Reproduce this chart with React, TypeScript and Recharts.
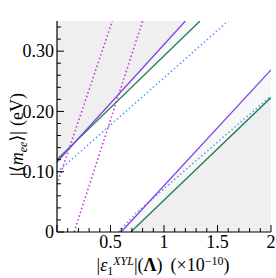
import React from 'react';
import { ComposedChart, Line, Area, XAxis, YAxis } from 'recharts';

const X_DOMAIN: [number, number] = [0, 2];
const Y_DOMAIN: [number, number] = [0, 0.35];

const xMajorTicks = [0, 0.5, 1, 1.5, 2];
const xMinorTicks = [0.1, 0.2, 0.3, 0.4, 0.6, 0.7, 0.8, 0.9, 1.1, 1.2, 1.3, 1.4, 1.6, 1.7, 1.8, 1.9];
const xTickLabels: Record<string, string> = { '0.5': '0.5', '1': '1', '1.5': '1.5', '2': '2' };

const yMajorTicks = [0, 0.1, 0.2, 0.3];
const yMinorTicks = [0.02, 0.04, 0.06, 0.08, 0.12, 0.14, 0.16, 0.18, 0.22, 0.24, 0.26, 0.28, 0.32, 0.34];
const yTickLabels: Record<string, string> = { '0': '0', '0.1': '0.10', '0.2': '0.20', '0.3': '0.30' };

// upper band (solid / dotted lines)
const purpleUpperX = [0, 1.2];
const purpleUpperY = [0.116, 0.35];
const greenUpperX = [0, 1.336];
const greenUpperY = [0.12, 0.35];
const blueUpperX = [0, 1.6];
const blueUpperY = [0.099, 0.35];

// lower band
const purpleLowerX = [0.6, 2];
const purpleLowerY = [0, 0.269];
const greenLowerX = [0.69, 2];
const greenLowerY = [0, 0.223];
const blueLowerX = [0.58, 0.73, 1.13, 2];
const blueLowerY = [0, 0.03, 0.092, 0.226];

// steep magenta dotted lines
const magenta1X = [0, 0.517];
const magenta1Y = [0.079, 0.35];
const magenta2X = [0.16, 0.8];
const magenta2Y = [0, 0.35];

const PURPLE = '#8040e8';
const GREEN = '#1f7a4c';
const BLUE = '#5a9cff';
const MAGENTA = '#cc33dd';
const FONT = '"Liberation Serif", "DejaVu Serif", serif';

const pts = (xs: number[], ys: number[]) => xs.map((x, i) => ({ x, y: ys[i] }));
const above = (xs: number[], ys: number[]) => xs.map((x, i) => ({ x, r: [ys[i], Y_DOMAIN[1]] }));
const below = (xs: number[], ys: number[]) => xs.map((x, i) => ({ x, r: [Y_DOMAIN[0], ys[i]] }));

const isMajor = (arr: number[], v: number) => arr.some((m) => Math.abs(m - v) < 1e-9);

const LeftTick = (props: any) => {
  const { x, y, payload } = props;
  const major = isMajor(yMajorTicks, payload.value);
  return (
    <g>
      <line x1={x} x2={x + (major ? 7 : 4)} y1={y} y2={y} stroke="#000" strokeWidth={1} />
      {major && (
        <text x={x - 3} y={y} dy="0.35em" textAnchor="end" fontFamily={FONT} fontSize={18} fill="#000">
          {yTickLabels[String(payload.value)]}
        </text>
      )}
    </g>
  );
};

const RightTick = (props: any) => {
  const { x, y, payload } = props;
  const major = isMajor(yMajorTicks, payload.value);
  return <line x1={x} x2={x - (major ? 7 : 4)} y1={y} y2={y} stroke="#000" strokeWidth={1} />;
};

const BottomTick = (props: any) => {
  const { x, y, payload } = props;
  const major = isMajor(xMajorTicks, payload.value);
  const label = xTickLabels[String(payload.value)];
  return (
    <g>
      <line x1={x} x2={x} y1={y} y2={y - (major ? 7 : 4)} stroke="#000" strokeWidth={1} />
      {label && (
        <text x={x} y={y + 16} textAnchor="middle" fontFamily={FONT} fontSize={18} fill="#000">
          {label}
        </text>
      )}
    </g>
  );
};

const TopTick = (props: any) => {
  const { x, y, payload } = props;
  const major = isMajor(xMajorTicks, payload.value);
  return <line x1={x} x2={x} y1={y} y2={y + (major ? 7 : 4)} stroke="#000" strokeWidth={1} />;
};

const XLabel = (props: any) => {
  const vb = props.viewBox;
  const cx = vb.x + vb.width / 2 - 1;
  const y = vb.y + 39;
  return (
    <text x={cx} y={y} textAnchor="middle" fontFamily={FONT} fontSize={18} fill="#000">
      <tspan>|</tspan>
      <tspan fontStyle="italic">ε</tspan>
      <tspan fontSize={12} dy={4}>1</tspan>
      <tspan fontSize={12} fontStyle="italic" dy={-10}>XYL</tspan>
      <tspan dy={6}>|(</tspan>
      <tspan fontWeight="bold">Λ</tspan>
      <tspan>)</tspan>
      <tspan dx={8}>(×10</tspan>
      <tspan fontSize={12} dy={-6}>−10</tspan>
      <tspan dy={6}>)</tspan>
    </text>
  );
};

const YLabel = (props: any) => {
  const vb = props.viewBox;
  const bx = 23;
  const cy = vb.y + vb.height / 2 + 8;
  return (
    <text
      x={bx}
      y={cy}
      transform={`rotate(-90, ${bx}, ${cy})`}
      textAnchor="middle"
      fontFamily={FONT}
      fontSize={18}
      fill="#000"
    >
      <tspan>|⟨</tspan>
      <tspan fontStyle="italic">m</tspan>
      <tspan fontSize={12} fontStyle="italic" dy={4}>ee</tspan>
      <tspan dy={-4}>⟩|</tspan>
      <tspan dx={5}>(eV)</tspan>
    </text>
  );
};

const shade = { fill: '#000', fillOpacity: 0.03, stroke: 'none' };

export default function App() {
  const xTicks = [...xMajorTicks, ...xMinorTicks].sort((a, b) => a - b);
  const yTicks = [...yMajorTicks, ...yMinorTicks].sort((a, b) => a - b);
  return (
    <div style={{ position: 'absolute', left: 0, top: 0, background: '#fff' }}>
      <ComposedChart width={276} height={278} margin={{ top: 21, right: 5, bottom: 0, left: 0 }}>
        <XAxis
          xAxisId="b"
          dataKey="x"
          type="number"
          domain={X_DOMAIN}
          allowDataOverflow
          ticks={xTicks}
          interval={0}
          height={46}
          tickSize={0}
          tickMargin={0}
          tickLine={false}
          tick={<BottomTick />}
          axisLine={{ stroke: '#000', strokeWidth: 1.2 }}
          label={<XLabel />}
        />
        <XAxis
          xAxisId="t"
          orientation="top"
          dataKey="x"
          type="number"
          domain={X_DOMAIN}
          allowDataOverflow
          ticks={xTicks}
          interval={0}
          height={0}
          tickSize={0}
          tickMargin={0}
          tickLine={false}
          tick={<TopTick />}
          axisLine={{ stroke: '#000', strokeWidth: 1.2 }}
        />
        <YAxis
          yAxisId="l"
          type="number"
          domain={Y_DOMAIN}
          allowDataOverflow
          ticks={yTicks}
          interval={0}
          width={57}
          tickSize={0}
          tickMargin={0}
          tickLine={false}
          tick={<LeftTick />}
          axisLine={{ stroke: '#000', strokeWidth: 1.2 }}
          label={<YLabel />}
        />
        <YAxis
          yAxisId="r"
          orientation="right"
          type="number"
          domain={Y_DOMAIN}
          allowDataOverflow
          ticks={yTicks}
          interval={0}
          width={0}
          tickSize={0}
          tickMargin={0}
          tickLine={false}
          tick={<RightTick />}
          axisLine={{ stroke: '#000', strokeWidth: 1.2 }}
        />

        <Area xAxisId="b" yAxisId="l" data={above(purpleUpperX, purpleUpperY)} dataKey="r" type="linear" {...shade} isAnimationActive={false} />
        <Area xAxisId="b" yAxisId="l" data={above(greenUpperX, greenUpperY)} dataKey="r" type="linear" {...shade} isAnimationActive={false} />
        <Area xAxisId="b" yAxisId="l" data={below(purpleLowerX, purpleLowerY)} dataKey="r" type="linear" {...shade} isAnimationActive={false} />
        <Area xAxisId="b" yAxisId="l" data={below(greenLowerX, greenLowerY)} dataKey="r" type="linear" {...shade} isAnimationActive={false} />

        <Line xAxisId="b" yAxisId="l" data={pts(magenta1X, magenta1Y)} dataKey="y" stroke={MAGENTA} strokeWidth={1.6} strokeDasharray="1.5 2.5" dot={false} isAnimationActive={false} />
        <Line xAxisId="b" yAxisId="l" data={pts(magenta2X, magenta2Y)} dataKey="y" stroke={MAGENTA} strokeWidth={1.6} strokeDasharray="1.5 2.5" dot={false} isAnimationActive={false} />
        <Line xAxisId="b" yAxisId="l" data={pts(blueUpperX, blueUpperY)} dataKey="y" stroke={BLUE} strokeWidth={1.6} strokeDasharray="1.5 2.5" dot={false} isAnimationActive={false} />
        <Line xAxisId="b" yAxisId="l" data={pts(blueLowerX, blueLowerY)} dataKey="y" stroke={BLUE} strokeWidth={1.6} strokeDasharray="1.5 2.5" dot={false} isAnimationActive={false} />
        <Line xAxisId="b" yAxisId="l" data={pts(greenUpperX, greenUpperY)} dataKey="y" stroke={GREEN} strokeWidth={1.3} dot={false} isAnimationActive={false} />
        <Line xAxisId="b" yAxisId="l" data={pts(greenLowerX, greenLowerY)} dataKey="y" stroke={GREEN} strokeWidth={1.3} dot={false} isAnimationActive={false} />
        <Line xAxisId="b" yAxisId="l" data={pts(purpleUpperX, purpleUpperY)} dataKey="y" stroke={PURPLE} strokeWidth={1.3} dot={false} isAnimationActive={false} />
        <Line xAxisId="b" yAxisId="l" data={pts(purpleLowerX, purpleLowerY)} dataKey="y" stroke={PURPLE} strokeWidth={1.3} dot={false} isAnimationActive={false} />
      </ComposedChart>
    </div>
  );
}
